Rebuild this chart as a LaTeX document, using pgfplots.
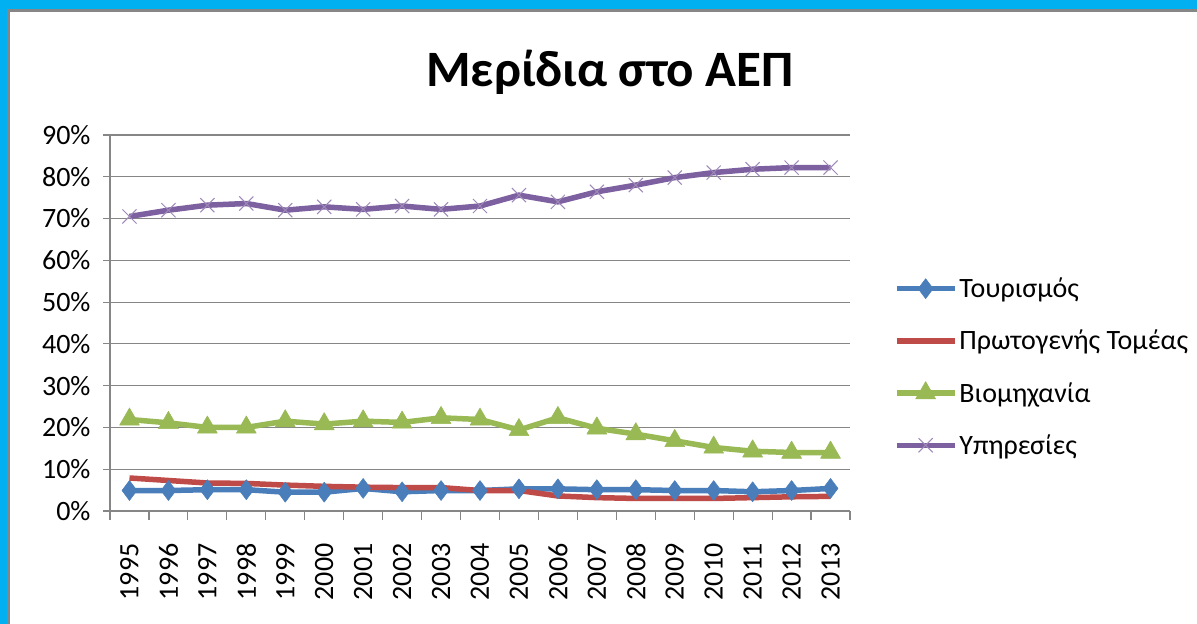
\documentclass[border=0pt]{standalone}
\usepackage{pgfplots}
\pgfplotsset{compat=1.18}
\usepackage{fontspec}
\setmainfont{Carlito}
\definecolor{cBlue}{HTML}{4A7EBB}
\definecolor{cRed}{HTML}{BE4B48}
\definecolor{cGreen}{HTML}{98B954}
\definecolor{cPurple}{HTML}{7D60A0}
\definecolor{cFrame}{HTML}{00B0F0}
\definecolor{cGrid}{HTML}{868686}
\begin{document}
\begin{tikzpicture}[x=1bp,y=1bp]
\path[use as bounding box,fill=white] (0,0) rectangle (1197,624);
\fill[cFrame] (0,615) rectangle (1197,624);
\fill[cFrame] (0,0) rectangle (7,624);
\fill[cGrid] (7,612) rectangle (1197,615);
\fill[cGrid] (7,0) rectangle (9.5,615);
\node[font=\fontsize{51bp}{56bp}\selectfont\bfseries] at (610,552) {Μερίδια στο ΑΕΠ};
\begin{axis}[
  at={(110bp,113bp)}, anchor=south west,
  scale only axis, width=740bp, height=376bp,
  xmin=-0.5, xmax=18.5, ymin=0, ymax=90,
  axis lines*=left,
  axis line style={cGrid, line width=1.2bp},
  xtick={0,...,18},
  xticklabels={1995,1996,1997,1998,1999,2000,2001,2002,2003,2004,2005,2006,2007,2008,2009,2010,2011,2012,2013},
  major x tick style={draw=none},
  minor xtick={-0.5,0.5,...,18.5},
  minor tick length=9bp,
  minor x tick style={cGrid, line width=1.2bp},
  x tick label style={rotate=90, anchor=east, xshift=-22bp},
  ytick={0,10,...,90},
  yticklabel={\pgfmathprintnumber{\tick}\%},
  y tick label style={xshift=-9bp},
  y tick style={cGrid, line width=1.2bp},
  major tick length=7bp,
  tick align=outside,
  ymajorgrids,
  grid style={cGrid, line width=1.2bp},
  /pgf/number format/assume math mode=true,
  tick label style={font=\fontsize{28bp}{33bp}\selectfont},
  legend style={at={(1.055,0.383)}, anchor=west, draw=none, fill=none,
    font=\fontsize{28bp}{33bp}\selectfont, row sep=27bp,
    /tikz/every odd column/.append style={column sep=0bp}},
  legend cell align=left,
  legend image code/.code={\draw[mark repeat=2,mark phase=2,#1] plot coordinates {(0bp,0bp) (29bp,0bp) (58bp,0bp)};},
  every axis plot/.append style={line width=5.5bp, line join=round},
]
\addplot[cBlue, mark=diamond*, mark size=10bp, mark options={line width=0.5bp}] coordinates {
(0,4.9) (1,4.9) (2,5.1) (3,5.1) (4,4.5) (5,4.5) (6,5.4) (7,4.6) (8,4.9) (9,4.9)
(10,5.3) (11,5.3) (12,5.1) (13,5.1) (14,4.9) (15,4.9) (16,4.6) (17,4.9) (18,5.4)};
\addlegendentry{Τουρισμός}
\addplot[cRed, no markers] coordinates {
(0,7.9) (1,7.3) (2,6.7) (3,6.6) (4,6.2) (5,5.9) (6,5.7) (7,5.6) (8,5.6) (9,4.9)
(10,4.9) (11,3.6) (12,3.2) (13,3.0) (14,3.0) (15,3.0) (16,3.2) (17,3.4) (18,3.5)};
\addlegendentry{Πρωτογενής Τομέας}
\addplot[cGreen, mark=triangle*, mark size=11.5bp, mark options={line width=0.5bp}] coordinates {
(0,21.9) (1,21.1) (2,20.0) (3,20.0) (4,21.5) (5,20.8) (6,21.5) (7,21.2) (8,22.3) (9,21.9)
(10,19.4) (11,22.3) (12,19.8) (13,18.4) (14,16.8) (15,15.2) (16,14.3) (17,14.0) (18,14.0)};
\addlegendentry{Βιομηχανία}
\addplot[cPurple, mark=x, mark size=10bp, mark options={line width=1bp, draw=cPurple!75}] coordinates {
(0,70.5) (1,72.0) (2,73.2) (3,73.6) (4,72.0) (5,72.8) (6,72.2) (7,73.0) (8,72.2) (9,73.0)
(10,75.6) (11,74.0) (12,76.4) (13,78.0) (14,79.8) (15,81.0) (16,81.8) (17,82.2) (18,82.2)};
\addlegendentry{Υπηρεσίες}
\end{axis}
\end{tikzpicture}
\end{document}
